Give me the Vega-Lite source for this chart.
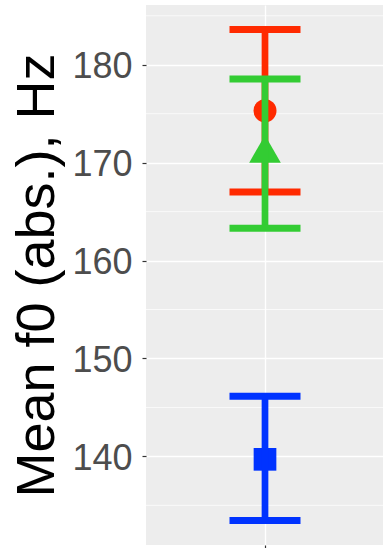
{
  "$schema": "https://vega.github.io/schema/vega-lite/v6.json",
  "width": 238,
  "height": 540,
  "autosize": {"type": "none"},
  "padding": {"left": 146, "top": 5, "right": 0, "bottom": 3},
  "background": "white",
  "config": {
    "view": {"fill": "#EDEDED", "stroke": null},
    "font": "Liberation Sans",
    "axisY": {
      "grid": true, "gridColor": "white", "gridWidth": 1.4,
      "domain": false,
      "ticks": true, "tickSize": 4, "tickColor": "#333333", "tickWidth": 1.2,
      "labelFontSize": 36, "labelColor": "#4D4D4D", "labelPadding": 10,
      "labelBaseline": "middle", "labelOffset": 2,
      "titleFontSize": 54, "titleColor": "black", "titleFontWeight": "normal",
      "titleX": -93, "titleY": 270, "titleAngle": -90, "titleAlign": "center", "titleBaseline": "alphabetic"
    },
    "axisX": {
      "grid": true, "gridColor": "white", "gridWidth": 1.4,
      "domain": false, "labels": false, "title": null,
      "ticks": true, "tickSize": 4, "tickColor": "#333333", "tickWidth": 1.2
    }
  },
  "datasets": {
    "stats": [
      {"grp": "A", "mean": 175.3, "lo": 167.0, "hi": 183.6},
      {"grp": "B", "mean": 171.4, "lo": 163.3, "hi": 178.55},
      {"grp": "C", "mean": 139.7, "lo": 133.45, "hi": 146.15}
    ],
    "minor": [{"v": 135}, {"v": 145}, {"v": 155}, {"v": 165}, {"v": 175}, {"v": 185}]
  },
  "data": {"name": "stats"},
  "encoding": {
    "x": {"datum": "all", "type": "nominal", "scale": {"type": "point"}, "axis": {"title": null, "labels": false}}
  },
  "layer": [
    {
      "data": {"name": "minor"},
      "mark": {"type": "rule", "color": "white", "strokeWidth": 0.7},
      "encoding": {
        "x": null,
        "y": {"field": "v", "type": "quantitative", "scale": {"domain": [130.95, 186.1], "nice": false, "zero": false}, "axis": {"title": "Mean f0 (abs.), Hz", "values": [140, 150, 160, 170, 180]}}
      }
    },
    {
      "transform": [{"filter": "datum.grp === 'A'"}],
      "layer": [
        {"mark": {"type": "point", "filled": true, "opacity": 1, "shape": "circle", "size": 529}, "encoding": {"y": {"field": "mean", "type": "quantitative", "axis": {"title": "Mean f0 (abs.), Hz", "values": [140, 150, 160, 170, 180]}}, "color": {"field": "grp", "type": "nominal", "scale": {"domain": ["A", "B", "C"], "range": ["#FF2A00", "#33CC33", "#0033FF"]}, "legend": null}}},
        {"mark": {"type": "rule", "strokeWidth": 6.7}, "encoding": {"y": {"field": "lo", "type": "quantitative", "axis": {"title": "Mean f0 (abs.), Hz", "values": [140, 150, 160, 170, 180]}}, "y2": {"field": "hi"}, "color": {"field": "grp", "type": "nominal", "legend": null}}},
        {"mark": {"type": "tick", "size": 71, "thickness": 7, "opacity": 1}, "encoding": {"y": {"field": "lo", "type": "quantitative", "axis": {"title": "Mean f0 (abs.), Hz", "values": [140, 150, 160, 170, 180]}}, "color": {"field": "grp", "type": "nominal", "legend": null}}},
        {"mark": {"type": "tick", "size": 71, "thickness": 7, "opacity": 1}, "encoding": {"y": {"field": "hi", "type": "quantitative", "axis": {"title": "Mean f0 (abs.), Hz", "values": [140, 150, 160, 170, 180]}}, "color": {"field": "grp", "type": "nominal", "legend": null}}}
      ]
    },
    {
      "transform": [{"filter": "datum.grp === 'B'"}],
      "layer": [
        {"mark": {"type": "point", "filled": true, "opacity": 1, "shape": "triangle-up", "size": 1000}, "encoding": {"y": {"field": "mean", "type": "quantitative", "axis": {"title": "Mean f0 (abs.), Hz", "values": [140, 150, 160, 170, 180]}}, "color": {"field": "grp", "type": "nominal", "legend": null}}},
        {"mark": {"type": "rule", "strokeWidth": 6.7}, "encoding": {"y": {"field": "lo", "type": "quantitative", "axis": {"title": "Mean f0 (abs.), Hz", "values": [140, 150, 160, 170, 180]}}, "y2": {"field": "hi"}, "color": {"field": "grp", "type": "nominal", "legend": null}}},
        {"mark": {"type": "tick", "size": 71, "thickness": 7, "opacity": 1}, "encoding": {"y": {"field": "lo", "type": "quantitative", "axis": {"title": "Mean f0 (abs.), Hz", "values": [140, 150, 160, 170, 180]}}, "color": {"field": "grp", "type": "nominal", "legend": null}}},
        {"mark": {"type": "tick", "size": 71, "thickness": 7, "opacity": 1}, "encoding": {"y": {"field": "hi", "type": "quantitative", "axis": {"title": "Mean f0 (abs.), Hz", "values": [140, 150, 160, 170, 180]}}, "color": {"field": "grp", "type": "nominal", "legend": null}}}
      ]
    },
    {
      "transform": [{"filter": "datum.grp === 'C'"}],
      "layer": [
        {"mark": {"type": "point", "filled": true, "opacity": 1, "shape": "square", "size": 515}, "encoding": {"y": {"field": "mean", "type": "quantitative", "axis": {"title": "Mean f0 (abs.), Hz", "values": [140, 150, 160, 170, 180]}}, "color": {"field": "grp", "type": "nominal", "legend": null}}},
        {"mark": {"type": "rule", "strokeWidth": 6.7}, "encoding": {"y": {"field": "lo", "type": "quantitative", "axis": {"title": "Mean f0 (abs.), Hz", "values": [140, 150, 160, 170, 180]}}, "y2": {"field": "hi"}, "color": {"field": "grp", "type": "nominal", "legend": null}}},
        {"mark": {"type": "tick", "size": 71, "thickness": 7, "opacity": 1}, "encoding": {"y": {"field": "lo", "type": "quantitative", "axis": {"title": "Mean f0 (abs.), Hz", "values": [140, 150, 160, 170, 180]}}, "color": {"field": "grp", "type": "nominal", "legend": null}}},
        {"mark": {"type": "tick", "size": 71, "thickness": 7, "opacity": 1}, "encoding": {"y": {"field": "hi", "type": "quantitative", "axis": {"title": "Mean f0 (abs.), Hz", "values": [140, 150, 160, 170, 180]}}, "color": {"field": "grp", "type": "nominal", "legend": null}}}
      ]
    }
  ]
}
